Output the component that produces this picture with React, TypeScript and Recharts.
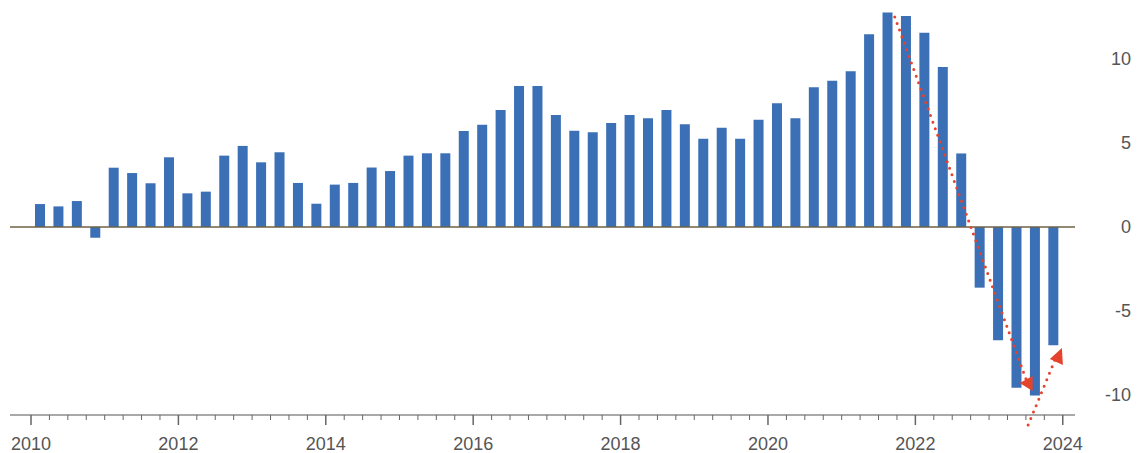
import React from "react";
import { BarChart, Bar, XAxis, YAxis, ReferenceLine, ReferenceDot } from "recharts";

// quarterly series, 2010 Q1 .. 2023 Q4
const YEARS = [2010, 2011, 2012, 2013, 2014, 2015, 2016, 2017, 2018, 2019, 2020, 2021, 2022, 2023];
const VALUES = [
  1.37, 1.23, 1.55, -0.64,
  3.54, 3.22, 2.61, 4.16,
  2.01, 2.11, 4.26, 4.84,
  3.86, 4.46, 2.63, 1.39,
  2.53, 2.63, 3.55, 3.34,
  4.26, 4.4, 4.4, 5.73,
  6.1, 6.99, 8.42, 8.42,
  6.69, 5.75, 5.65, 6.21,
  6.69, 6.49, 6.99, 6.13,
  5.27, 5.93, 5.27, 6.4,
  7.39, 6.49, 8.34, 8.73,
  9.29, 11.5, 12.8, 12.6,
  11.6, 9.55, 4.39, -3.62,
  -6.76, -9.6, -10.05, -7.06,
];
const YEAR_LABELS = [2010, 2012, 2014, 2016, 2018, 2020, 2022, 2024];
const Y_TICKS = [-10, -5, 0, 5, 10];

// red dotted annotation arrows (data coordinates)
const ARROW_DOWN = [{ x: 2021.72, y: 12.54 }, { x: 2023.5, y: -9.07 }];
const ARROW_UP = [{ x: 2023.53, y: -11.82 }, { x: 2023.91, y: -7.76 }];
const HEAD_DOWN = { x: 2023.51, y: -9.37 };
const HEAD_UP = { x: 2023.92, y: -7.76 };

const data = VALUES.map((v, i) => ({
  t: YEARS[Math.floor(i / 4)] + ((i % 4) + 0.5) / 4,
  v,
}));

const quarterTicks: number[] = [];
for (let y = 2010; y <= 2024; y++) {
  for (let q = 0; q < 4; q++) {
    if (y === 2024 && q > 0) break;
    quarterTicks.push(y + q / 4);
  }
}

const FONT = "'Liberation Sans', Arial, sans-serif";
const RED = "#e5432b";

const XTick = (props: any) => {
  const { x, y, payload } = props;
  const val = payload.value;
  const yr = Math.round(val);
  const isYear = Math.abs(val - yr) < 1e-6;
  const labeled = isYear && YEAR_LABELS.includes(yr);
  return (
    <g>
      <line x1={x} x2={x} y1={y} y2={y + (labeled ? 10 : 5)} stroke="#666" strokeWidth={labeled ? 1.5 : 1} />
      {labeled && (
        <text x={x} y={y + 35} textAnchor="middle" fill="#555" fontSize={18} fontFamily={FONT}>
          {yr}
        </text>
      )}
    </g>
  );
};

const YTick = (props: any) => {
  const { x, y, payload } = props;
  return (
    <text x={x + 56} y={y} dy={6} textAnchor="end" fill="#555" fontSize={18} fontFamily={FONT}>
      {payload.value}
    </text>
  );
};

const headDown = (props: any) => {
  const { cx, cy } = props;
  return <polygon points={`${cx - 7},${cy - 1} ${cx + 6},${cy - 8} ${cx + 6},${cy + 7}`} fill={RED} />;
};

const headUp = (props: any) => {
  const { cx, cy } = props;
  return <polygon points={`${cx + 5},${cy - 9} ${cx - 7},${cy + 2} ${cx + 6},${cy + 8}`} fill={RED} />;
};

export default function App() {
  return (
    <div style={{ position: "absolute", left: 0, top: 0, width: 1140, height: 453, background: "#fff" }}>
      <BarChart width={1140} height={453} data={data} margin={{ top: 5, right: 0, bottom: 0, left: 10 }}>
        <XAxis
          dataKey="t"
          type="number"
          scale="linear"
          domain={[2009.715, 2024.166]}
          ticks={quarterTicks}
          interval={0}
          tick={<XTick />}
          tickLine={false}
          tickSize={0}
          tickMargin={0}
          height={38}
          axisLine={{ stroke: "#555", strokeWidth: 1.2 }}
        />
        <YAxis
          orientation="right"
          type="number"
          domain={[-11.22, 13.25]}
          ticks={Y_TICKS}
          interval={0}
          width={65}
          axisLine={false}
          tickLine={false}
          tickSize={0}
          tickMargin={0}
          tick={<YTick />}
        />
        <ReferenceLine y={0} stroke="#6e6246" strokeWidth={1.5} />
        <Bar dataKey="v" fill="#3b6fb6" barSize={10} isAnimationActive={false} />
        <ReferenceLine
          segment={ARROW_DOWN}
          stroke={RED}
          strokeWidth={3}
          strokeDasharray="0 7"
          strokeLinecap="round"
          ifOverflow="visible"
        />
        <ReferenceLine
          segment={ARROW_UP}
          stroke={RED}
          strokeWidth={3}
          strokeDasharray="0 7"
          strokeLinecap="round"
          ifOverflow="visible"
        />
        <ReferenceDot x={HEAD_DOWN.x} y={HEAD_DOWN.y} r={6} shape={headDown} ifOverflow="visible" />
        <ReferenceDot x={HEAD_UP.x} y={HEAD_UP.y} r={6} shape={headUp} ifOverflow="visible" />
      </BarChart>
    </div>
  );
}
